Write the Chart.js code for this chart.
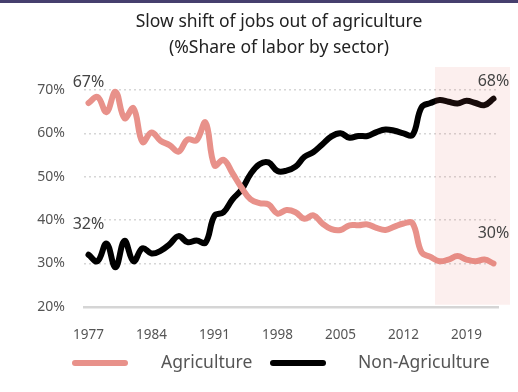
<!DOCTYPE html>
<html>
<head>
<meta charset="utf-8">
<title>Share of labor by sector</title>
<script src="https://cdn.jsdelivr.net/npm/chart.js@4.4.1/dist/chart.umd.min.js"></script>
<style>
  html, body { margin: 0; padding: 0; background: #fff; }
  #wrap { width: 518px; height: 392px; }
</style>
</head>
<body>
<div id="wrap"><canvas id="laborChart" width="518" height="392"></canvas></div>
<script>
// years on the x axis (only every 7th one gets a label)
const years = [
    "1977", "1978", "1979", "1980", "1981", "1982", "1983", "1984", "1985", "1986",
    "1987", "1988", "1989", "1990", "1991", "1992", "1993", "1994", "1995", "1996",
    "1997", "1998", "1999", "2000", "2001", "2002", "2003", "2004", "2005", "2006",
    "2007", "2008", "2009", "2010", "2011", "2012", "2013", "2014", "2015", "2016",
    "2017", "2018", "2019", "2020", "2021", "2022"
];

// % share of labor, agriculture
const agriculture = [
    67, 68.4, 64.9, 69.6, 63.5, 65.8, 58, 60.2, 58.3, 57.3,
    55.8, 58.6, 58.4, 62.5, 52.6, 53.9, 50.8, 47.5, 44.8, 43.9,
    43.6, 41.5, 42.3, 41.8, 40.3, 41.1, 39.2, 37.9, 37.7, 38.8,
    38.8, 39, 38.2, 37.7, 38.5, 39.2, 39.3, 32.6, 31.5, 30.5,
    30.9, 31.7, 30.9, 30.5, 30.9, 30
];

// % share of labor, everything else
const nonAgriculture = [
    32, 30.5, 34.6, 29.1, 35.2, 30.5, 33.5, 32.3, 32.9, 34.4,
    36.3, 34.9, 35.3, 34.8, 41, 41.8, 44.8, 47, 50.6, 52.9,
    53.3, 51.3, 51.4, 52.3, 54.6, 55.7, 57.5, 59.3, 60, 59,
    59.4, 59.4, 60.3, 60.9, 60.6, 60, 59.6, 66, 67, 67.7,
    67.3, 66.9, 67.5, 67, 66.5, 68
];

const yTicks = [20, 30, 40, 50, 60, 70];
const titleLines = ["Slow shift of jobs out of agriculture", "(%Share of labor by sector)"];
const shadeFrom = "2016"; // highlighted recent period

const FONT = '"Noto Sans", "Open Sans", sans-serif';
const AGRI_COLOR = "#e8918a";
const NONAGRI_COLOR = "#000000";

// start / end values written next to the lines
const endLabels = [
    { dataset: 0, index: 0, dy: -21 },
    { dataset: 1, index: 0, dy: -30 },
    { dataset: 1, index: years.length - 1, dy: -17 },
    { dataset: 0, index: years.length - 1, dy: -30 }
];

const decorPlugin = {
    id: "decor",
    beforeDraw(chart) {
        const ctx = chart.ctx;
        ctx.save();
        // thin bar across the top
        ctx.fillStyle = "#463f6e";
        ctx.fillRect(0, 0, chart.width, 3);
        // title
        ctx.fillStyle = "#222";
        ctx.font = "17.5px " + FONT;
        ctx.textAlign = "center";
        ctx.textBaseline = "middle";
        ctx.fillText(titleLines[0], 279, 22);
        ctx.fillText(titleLines[1], 279, 48);
        ctx.restore();
    },
    afterDatasetsDraw(chart) {
        const ctx = chart.ctx;
        const area = chart.chartArea;
        const xScale = chart.scales.x;
        const step = xScale.getPixelForValue(1) - xScale.getPixelForValue(0);
        const x0 = xScale.getPixelForValue(years.indexOf(shadeFrom)) - step / 2;

        ctx.save();
        ctx.fillStyle = "rgba(225, 95, 85, 0.1)";
        ctx.fillRect(x0, area.top - 23, area.right + 12 - x0, area.bottom - 2 - (area.top - 23));

        ctx.fillStyle = "#444";
        ctx.font = "16px " + FONT;
        ctx.textAlign = "center";
        ctx.textBaseline = "middle";
        endLabels.forEach(lbl => {
            const pt = chart.getDatasetMeta(lbl.dataset).data[lbl.index];
            const value = chart.data.datasets[lbl.dataset].data[lbl.index];
            ctx.fillText(Math.round(value) + "%", pt.x, pt.y + lbl.dy);
        });
        ctx.restore();
    },
    afterDraw(chart) {
        // legend: thick line sample followed by the series name
        const ctx = chart.ctx;
        const y = 363;
        const items = [
            { lineX: 75, textX: 161 },
            { lineX: 273, textX: 358 }
        ];
        ctx.save();
        ctx.font = "17.5px " + FONT;
        ctx.textBaseline = "middle";
        ctx.textAlign = "left";
        chart.data.datasets.forEach((ds, i) => {
            const it = items[i];
            ctx.strokeStyle = ds.borderColor;
            ctx.lineWidth = 6;
            ctx.lineCap = "round";
            ctx.beginPath();
            ctx.moveTo(it.lineX, y);
            ctx.lineTo(it.lineX + 50, y);
            ctx.stroke();
            ctx.fillStyle = "#555";
            ctx.fillText(ds.label, it.textX, y);
        });
        ctx.restore();
    }
};

const ctx = document.getElementById("laborChart").getContext("2d");
const laborChart = new Chart(ctx, {
    type: "line",
    data: {
        labels: years,
        datasets: [{
            label: "Agriculture",
            data: agriculture,
            borderColor: AGRI_COLOR,
            borderWidth: 6,
            borderCapStyle: "round",
            borderJoinStyle: "round",
            pointRadius: 0,
            tension: 0.4,
            clip: false
        }, {
            label: "Non-Agriculture",
            data: nonAgriculture,
            borderColor: NONAGRI_COLOR,
            borderWidth: 6,
            borderCapStyle: "round",
            borderJoinStyle: "round",
            pointRadius: 0,
            tension: 0.4,
            clip: false
        }]
    },
    options: {
        responsive: false,
        devicePixelRatio: 1,
        animation: false,
        layout: {
            padding: { top: 90, right: 20, bottom: 29, left: 0 }
        },
        plugins: {
            legend: { display: false },
            title: { display: false },
            tooltip: { enabled: false }
        },
        scales: {
            x: {
                offset: true,
                grid: { display: false, drawTicks: false },
                border: { display: true, color: "#d5d5d5", width: 2.5 },
                ticks: {
                    autoSkip: false,
                    maxRotation: 0,
                    padding: 20,
                    color: "#555",
                    font: { family: FONT, size: 13.5 },
                    callback: function(value, index) {
                        return index % 7 === 0 ? years[index] : "";
                    }
                }
            },
            y: {
                min: yTicks[0],
                max: yTicks[yTicks.length - 1],
                afterBuildTicks: function(scale) {
                    scale.ticks = yTicks.map(v => ({ value: v }));
                },
                afterFit: function(scale) {
                    scale.width = 84;
                },
                grid: {
                    drawTicks: false,
                    lineWidth: 1.5,
                    color: c => (c.tick && c.tick.value === yTicks[0]) ? "rgba(0,0,0,0)" : "#d6d6d6"
                },
                border: { display: false, dash: [2, 3] },
                ticks: {
                    padding: 19,
                    color: "#555",
                    font: { family: FONT, size: 14 },
                    callback: v => v + "%"
                }
            }
        }
    },
    plugins: [decorPlugin]
});
</script>
</body>
</html>
